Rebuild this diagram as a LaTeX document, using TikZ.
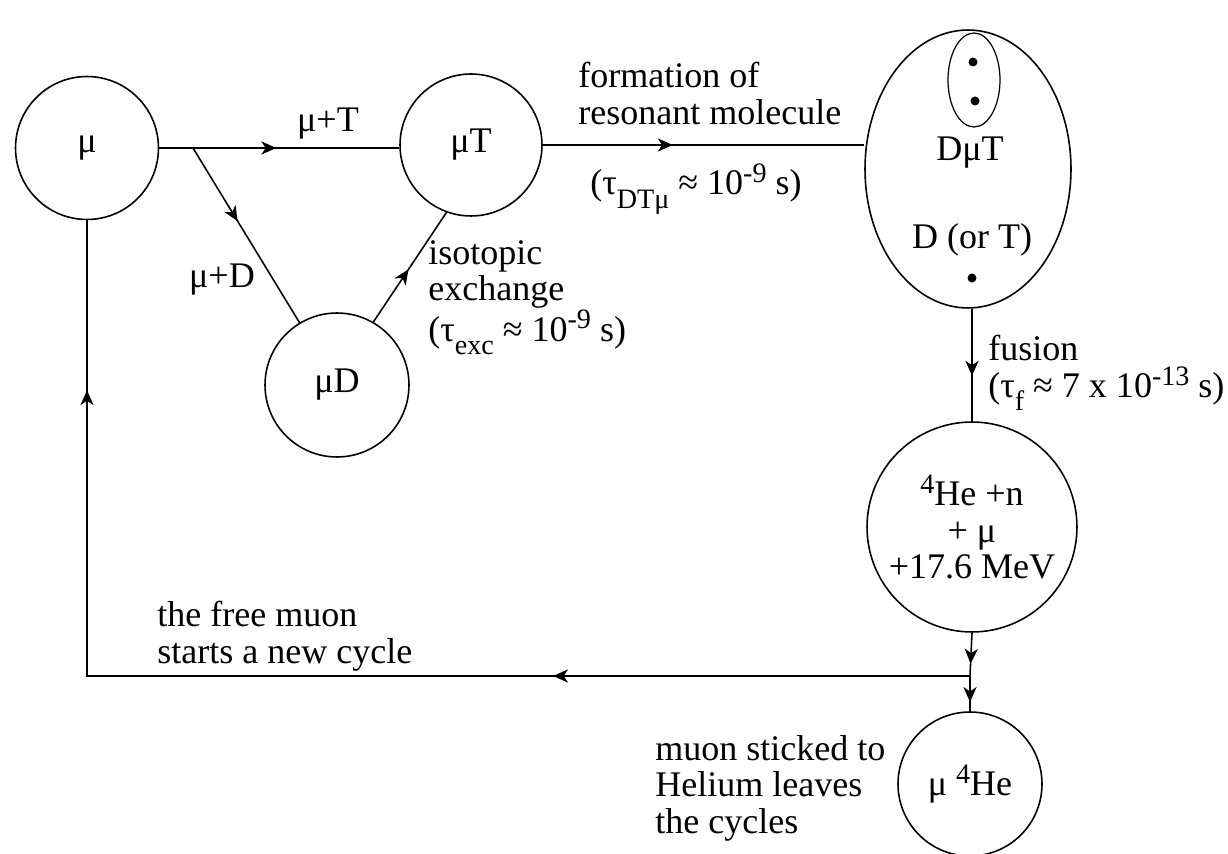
\documentclass[tikz,border=0pt]{standalone}
\usepackage{fontspec}
\setmainfont{Liberation Serif}
\usetikzlibrary{shapes.geometric,arrows.meta,decorations.markings}
\newcommand\mysup[1]{\raisebox{0.34em}{\fontsize{16}{16}\selectfont #1}}
\newcommand\mysub[1]{\raisebox{-0.38em}{\fontsize{16}{16}\selectfont #1}}
\tikzset{
  conn/.style={line width=0.9pt, line join=miter},
  arr/.style={postaction={decorate},decoration={markings,
     mark=at position #1 with {\arrow{Stealth[length=8.5pt,width=7.5pt,inset=2.5pt]}}}},
  ring/.style={circle, draw, line width=0.9pt, inner sep=0pt, align=center},
  lbl/.style={inner sep=0pt, align=left},
  dot/.style={circle, fill=black, inner sep=0pt, minimum size=0.18cm},
}
\begin{document}
\begin{tikzpicture}[x=0.02cm,y=-0.02cm,font=\fontsize{20.5}{20.8}\selectfont]
\useasboundingbox (0,0) rectangle (1228,854);
% nodes
\node[ring, minimum size=2.86cm] (mu) at (87,148) {μ};
\node[ring, minimum size=2.84cm] (muT) at (471,145) {μT};
\node[ring, minimum size=2.88cm] (muD) at (337,385) {μD};
\node[ellipse, draw, line width=0.9pt, minimum width=4.12cm, minimum height=5.56cm, inner sep=0pt] (dmt) at (968,169) {};
\node[ellipse, draw, line width=0.7pt, minimum width=1.04cm, minimum height=1.88cm, inner sep=0pt] (pair) at (974,80) {};
\node[dot] (d1) at (973,62) {};
\node[dot] (d2) at (975,101) {};
\node[dot] (d3) at (972,278) {};
\node (dmtlbl) at (970,153) {DμT};
\node (dortlbl) at (972,240) {D (or T)};
\node[ring, minimum size=4.2cm] (he) at (972,527) {\mysup{4}He +n\\+ μ\\+17.6 MeV};
\node[ring, minimum size=2.88cm] (muhe) at (970,784) {μ \mysup{4}He};
% coordinates
\coordinate (br) at (193,148);
\coordinate (j) at (970,676);
\coordinate (corner) at (87,676);
% connectors
\draw[conn, arr=2.34cm] (mu.east |- br) -- (muT.west |- br);
\draw[conn, arr=0.42] (br) -- (muD.121);
\draw[conn, arr=0.48] (muD.60) -- (muT.250);
\draw[conn, arr=2.6cm] (muT.east) -- (dmt.west |- muT.east);
\draw[conn, arr=1.34cm] (dmt.south -| he.north) -- (he.north);
\draw[conn, arr=0.62cm] (he.south) -- (j);
\draw[conn, arr=0.52cm] (j) -- (muhe.north);
\draw[conn, postaction={decorate}, decoration={markings,
   mark=at position 8.34cm with {\arrow{Stealth[length=8.5pt,width=7.5pt,inset=2.5pt]}},
   mark=at position 23.38cm with {\arrow{Stealth[length=8.5pt,width=7.5pt,inset=2.5pt]}}}]
   (j) -- (corner) -- (mu.south);
% labels
\node[lbl, anchor=base] (lmuT) at (328,132) {μ+T};
\node[lbl, anchor=base] (lmuD) at (222,288) {μ+D};
\node[lbl, anchor=north west] (liso) at (428,240) {isotopic\\exchange\\(τ\mysub{exc} ≈ 10\mysup{-9} s)};
\node[lbl, anchor=north west] (lform) at (578,62) {formation of\\resonant molecule};
\node[lbl, anchor=base west] (ltau) at (590,195) {(τ\mysub{DTμ} ≈ 10\mysup{-9} s)};
\node[lbl, anchor=north west] (lfus) at (988,335) {fusion\\(τ\mysub{f} ≈ 7 x 10\mysup{-13} s)};
\node[lbl, anchor=north west] (lfree) at (157,601) {the free muon\\starts a new cycle};
\node[lbl, anchor=north west] (lstick) at (655,735) {muon sticked to\\Helium leaves\\the cycles};
\end{tikzpicture}
\end{document}
